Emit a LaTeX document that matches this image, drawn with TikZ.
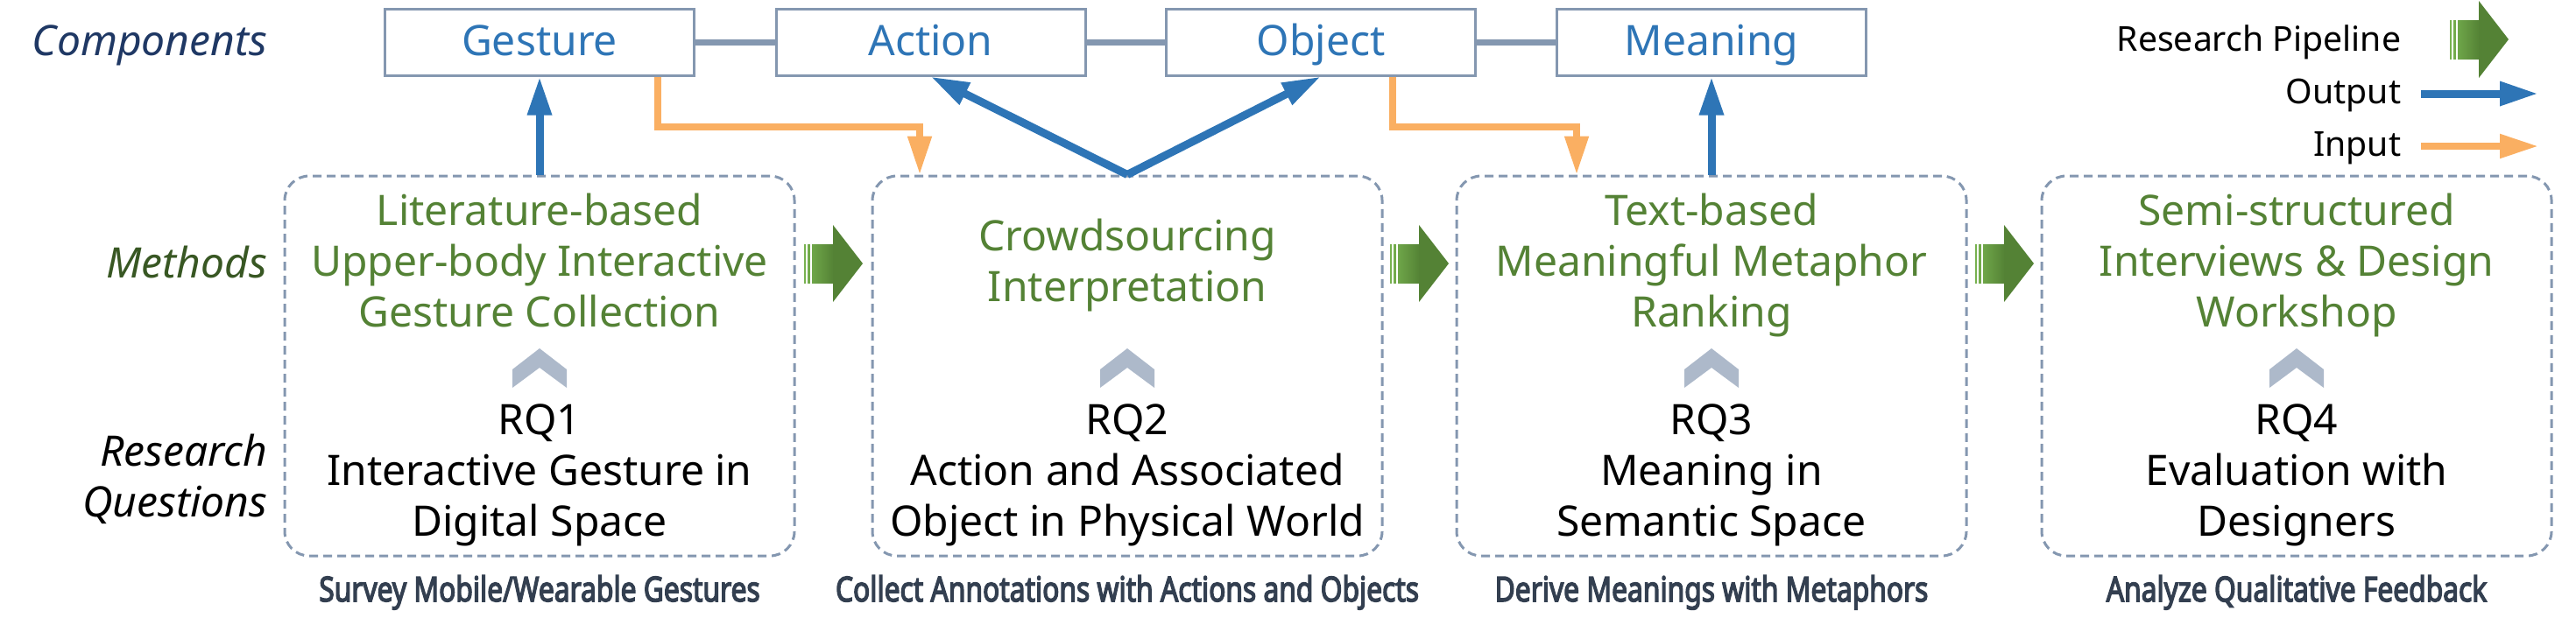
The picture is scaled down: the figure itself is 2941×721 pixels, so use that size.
\documentclass[tikz,border=0pt]{standalone}
\usepackage{fontspec}
\usepackage{graphicx}
\setmainfont{Noto Sans}
\newfontfamily\botfam{Noto Sans}[FakeBold=4]
\usetikzlibrary{arrows.meta,calc}
\definecolor{cblue}{RGB}{46,117,182}
\definecolor{corange}{RGB}{250,175,98}
\definecolor{cgreen}{RGB}{84,130,53}
\definecolor{clgreen}{RGB}{120,178,80}
\definecolor{cgray}{RGB}{132,151,176}
\definecolor{cchev}{RGB}{173,185,202}
\definecolor{cnavy}{RGB}{31,56,100}
\definecolor{cdkgreen}{RGB}{56,87,35}
\definecolor{cslate}{RGB}{51,63,80}
\newcommand{\bodyfont}{\fontsize{12}{14.5}\selectfont}
\newcommand{\legfont}{\fontsize{9.8}{12}\selectfont}
\newcommand{\botfont}{\botfam\fontsize{9.8}{11}\selectfont}
\begin{document}
\begin{tikzpicture}[x=0.25pt,y=-0.25pt,
  comp/.style={draw=cgray,line width=0.75pt,minimum width=88.25pt,minimum height=19pt,inner sep=0pt,text=cblue,font=\bodyfont,text height=9.5pt,text depth=2pt},
  mbox/.style={draw=cgray,line width=0.75pt,dash pattern=on 2.5pt off 1.5pt,rounded corners=7pt,minimum width=145.5pt,minimum height=108.5pt,inner sep=0pt},
  mtext/.style={text=cgreen,font=\bodyfont,align=center,inner sep=0pt},
  rqtext/.style={text=black,font=\bodyfont,align=center,inner sep=0pt},
  botlabel/.style={text=cslate,font=\botfont,inner sep=0pt,anchor=base},
  legtext/.style={text=black,font=\legfont,inner sep=0pt,anchor=base east},
  outarrow/.style={draw=cblue,line width=2.25pt,-{Triangle[length=11pt,width=6.5pt]}},
  inarrow/.style={draw=corange,line width=2pt,-{Triangle[length=11pt,width=6.5pt]}},
  complink/.style={draw=cgray,line width=1.75pt},
  chev/.pic={\fill[cchev] (-31,45) -- (-31,24) -- (0,0) -- (31,24) -- (31,45) -- (0,22) -- cycle;},
  pipearrow/.pic={
    \shade[left color=clgreen,right color=cgreen] (0,-22) rectangle (34,22);
    \fill[white] (2,-23) rectangle (4,23);
    \fill[white] (7,-23) rectangle (9,23);
    \fill[cgreen] (33,-44) -- (67,0) -- (33,44) -- cycle;}
]
\useasboundingbox (0,0) rectangle (2941,721);

% component boxes
\node[comp] (gesture) at (616,48) {Gesture};
\node[comp] (action) at (1062.5,48) {Action};
\node[comp] (object) at (1508,48) {Object};
\node[comp] (meaning) at (1954,48) {Meaning};
\draw[complink] (gesture.east) -- (action.west);
\draw[complink] (action.east) -- (object.west);
\draw[complink] (object.east) -- (meaning.west);

% method boxes
\node[mbox] (box1) at (616,418) {};
\node[mbox] (box2) at (1287,418) {};
\node[mbox] (box3) at (1954,418) {};
\node[mbox] (box4) at (2622,418) {};

% left labels
\node[anchor=base east,font=\bodyfont\itshape,text=cnavy,inner sep=0pt] (lcomp) at (306,63) {Components};
\node[anchor=base east,font=\bodyfont\itshape,text=cdkgreen,inner sep=0pt] (lmeth) at (306,317) {Methods};
\node[anchor=east,align=right,font=\bodyfont\itshape,text=black,inner sep=0pt] (lrq) at (306,550) {\strut Research\\\strut Questions};

% method texts
\node[mtext] (m1) at (616,304) {\strut Literature-based\\\strut Upper-body Interactive\\\strut Gesture Collection};
\node[mtext] (m2) at (1287,304) {\strut Crowdsourcing\\\strut Interpretation};
\node[mtext] (m3) at (1954,304) {\strut Text-based\\\strut Meaningful Metaphor\\\strut Ranking};
\node[mtext] (m4) at (2622,304) {\strut Semi-structured\\\strut Interviews \& Design\\\strut Workshop};

% chevrons
\pic at (616,398) {chev};
\pic at (1287,398) {chev};
\pic at (1954,398) {chev};
\pic at (2622,398) {chev};

% research questions
\node[rqtext] (rq1) at (616,543) {\strut RQ1\\\strut Interactive Gesture in\\\strut Digital Space};
\node[rqtext] (rq2) at (1287,543) {\strut RQ2\\\strut Action and Associated\\\strut Object in Physical World};
\node[rqtext] (rq3) at (1954,543) {\strut RQ3\\\strut Meaning in\\\strut Semantic Space};
\node[rqtext] (rq4) at (2622,543) {\strut RQ4\\\strut Evaluation with\\\strut Designers};

% bottom labels
\node[botlabel] (b1) at (616,687) {\scalebox{0.81}[1]{Survey Mobile/Wearable Gestures}};
\node[botlabel] (b2) at (1287,687) {\scalebox{0.81}[1]{Collect Annotations with Actions and Objects}};
\node[botlabel] (b3) at (1954,687) {\scalebox{0.81}[1]{Derive Meanings with Metaphors}};
\node[botlabel] (b4) at (2622,687) {\scalebox{0.81}[1]{Analyze Qualitative Feedback}};

% pipeline arrows
\pic at (918,301) {pipearrow};
\pic at (1587,301) {pipearrow};
\pic at (2255,301) {pipearrow};

% output arrows
\draw[outarrow] (box1.north) -- (gesture.south);
\draw[outarrow] (box2.north) -- (action.south);
\draw[outarrow] (box2.north) -- (object.south);
\draw[outarrow] (box3.north) -- (meaning.south);

% input arrows
\draw[inarrow] ([xshift=33.75pt]gesture.south) -- ++(0,57) -| ([xshift=-59.25pt]box2.north);
\draw[inarrow] ([xshift=20.5pt]object.south) -- ++(0,57) -| ([xshift=-38.5pt]box3.north);

% legend
\node[legtext] (lpipe) at (2742,58) {Research Pipeline};
\node[legtext] (lout) at (2742,118) {Output};
\node[legtext] (lin) at (2742,178) {Input};
\pic at (2797,45) {pipearrow};
\coordinate (o1) at (2764,107);
\coordinate (o2) at (2898,107);
\coordinate (i1) at (2764,167);
\coordinate (i2) at (2898,167);
\draw[outarrow] (o1) -- (o2);
\draw[inarrow] (i1) -- (i2);
\end{tikzpicture}
\end{document}
